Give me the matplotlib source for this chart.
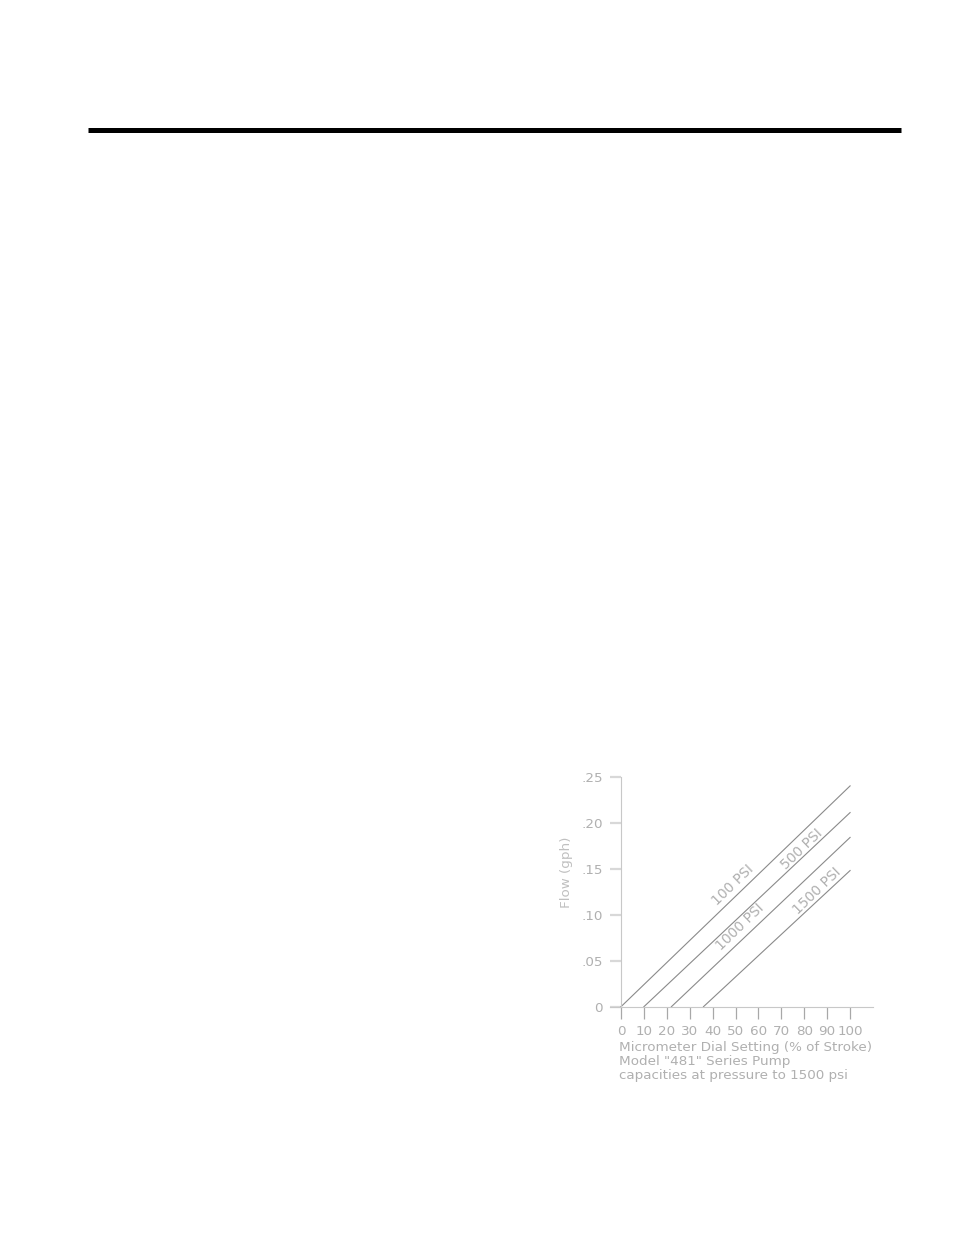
import matplotlib.pyplot as plt

# dial setting (% of stroke) vs flow (gph)
dial_100 = [0, 100]
flow_100 = [0.0, 0.240]
dial_500 = [10, 100]
flow_500 = [0.0, 0.211]
dial_1000 = [22, 100]
flow_1000 = [0.0, 0.184]
dial_1500 = [36, 100]
flow_1500 = [0.0, 0.148]

series_labels = ['100 PSI', '500 PSI', '1000 PSI', '1500 PSI']
label_x = [48.8, 79.0, 52.0, 85.6]
label_y = [0.132, 0.171, 0.087, 0.126]

x_ticks = [0, 10, 20, 30, 40, 50, 60, 70, 80, 90, 100]
y_ticks = [0, 0.05, 0.10, 0.15, 0.20, 0.25]
y_tick_labels = ['0', '.05', '.10', '.15', '.20', '.25']

caption = ['Micrometer Dial Setting (% of Stroke)',
           'Model "481" Series Pump',
           'capacities at pressure to 1500 psi']

W, H = 954, 1235
TXT = '#b0b0b0'
LN = '#8a8a8a'

fig = plt.figure(figsize=(W / 100, H / 100), dpi=100)

# heavy rule at the top of the page
fig.add_artist(plt.Line2D([88 / W, 901 / W], [1 - 129.5 / H, 1 - 129.5 / H],
                          color='black', linewidth=3.6, solid_capstyle='butt'))

# axes box in pixels: x 610..873, y 777..1007
left, right, top, bottom = 610, 873, 776.7, 1006.7
ax = fig.add_axes([left / W, 1 - bottom / H, (right - left) / W, (bottom - top) / H])
ax.set_xlim(-4.8, 110)
ax.set_ylim(0, 0.25)

for xs, ys in [(dial_100, flow_100), (dial_500, flow_500),
               (dial_1000, flow_1000), (dial_1500, flow_1500)]:
    ax.plot(xs, ys, color=LN, linewidth=0.8)

for lab, lx, ly in zip(series_labels, label_x, label_y):
    ax.text(lx, ly, lab, rotation=44, ha='center', va='center',
            fontsize=10, color=TXT, rotation_mode='anchor')

ax.spines['top'].set_visible(False)
ax.spines['right'].set_visible(False)
ax.spines['left'].set_position(('data', 0))
ax.spines['left'].set_color('#c8c8c8')
ax.spines['bottom'].set_color('#c8c8c8')
ax.spines['left'].set_linewidth(0.8)
ax.spines['bottom'].set_linewidth(0.8)

ax.set_xticks(x_ticks)
ax.set_xticklabels([str(v) for v in x_ticks])
ax.set_yticks(y_ticks)
ax.set_yticklabels(y_tick_labels)
ax.tick_params(axis='x', direction='out', length=8.5, width=0.9, color='#a8a8a8',
               labelsize=9.7, labelcolor=TXT, pad=5)
ax.tick_params(axis='y', direction='out', length=8, width=1.6, color='#d8d8d8',
               labelsize=9.7, labelcolor=TXT, pad=5)

fig.text(566.7 / W, 1 - 872 / H, 'Flow (gph)', rotation=90, ha='center', va='center',
         fontsize=9.7, color='#c0c0c0')

for i, line in enumerate(caption):
    fig.text(619 / W, 1 - (1048 + 14 * i) / H, line, ha='left', va='center',
             fontsize=9.7, color=TXT)

fig.savefig('out.png', dpi=100, facecolor='white')
